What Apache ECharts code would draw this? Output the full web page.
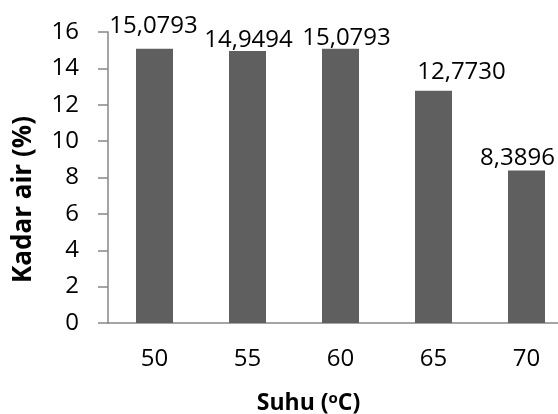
<!DOCTYPE html>
<html>
<head>
<meta charset="utf-8">
<script src="https://cdn.jsdelivr.net/npm/echarts@6/dist/echarts.min.js"></script>
<style>
  html, body { margin: 0; padding: 0; background: #ffffff; }
  #chart { width: 558px; height: 414px; }
</style>
</head>
<body>
<div id="chart"></div>
<script>
// Drying temperature (°C) and resulting moisture content (%)
const suhu = ['50', '55', '60', '65', '70'];
const kadarAir = [15.0793, 14.9494, 15.0793, 12.7730, 8.3896];
const yTicks = { min: 0, max: 16, interval: 2 };

// Hand-placed nudges for each value label [dx, dy]
const labelNudge = [[-1, -7], [1, 5], [6, 5], [28, -3], [-9, 4]];

const FONT = 'Open Sans';
const AXIS_GREY = '#868686';

const chart = echarts.init(document.getElementById('chart'), null, { renderer: 'canvas' });

const fmt = v => v.toFixed(4).replace('.', ',');

chart.setOption({
  animation: false,
  backgroundColor: '#ffffff',
  // plot area runs past the right edge of the canvas on purpose
  grid: { left: 108, top: 32, bottom: 91, width: 465, containLabel: false, outerBoundsMode: 'none' },
  xAxis: {
    type: 'category',
    data: suhu,
    name: 'Suhu ({o|o}C)',
    nameLocation: 'middle',
    nameGap: 68,
    nameTextStyle: {
      fontFamily: FONT, fontSize: 23, fontWeight: 'bold', color: '#000',
      padding: [0, 64, 0, 0],
      rich: {
        o: { fontFamily: FONT, fontSize: 15, fontWeight: 'bold', color: '#000', verticalAlign: 'top', padding: [0, 0, 9, 0] }
      }
    },
    axisLine: { show: true, lineStyle: { color: AXIS_GREY, width: 1.5 } },
    axisTick: { show: false },
    axisLabel: { fontFamily: FONT, fontSize: 24, color: '#000', margin: 24 },
    splitLine: { show: false }
  },
  yAxis: {
    type: 'value',
    min: yTicks.min,
    max: yTicks.max,
    interval: yTicks.interval,
    name: 'Kadar air (%)',
    nameLocation: 'middle',
    nameRotate: 90,
    nameGap: 71,
    nameTextStyle: {
      fontFamily: FONT, fontSize: 26, fontWeight: 'bold', color: '#000',
      padding: [0, 44, 0, 0]
    },
    axisLine: { show: true, lineStyle: { color: AXIS_GREY, width: 1.5 } },
    axisTick: { show: true, inside: false, length: 10, lineStyle: { color: AXIS_GREY, width: 1.5 } },
    axisLabel: { fontFamily: FONT, fontSize: 24, color: '#000', margin: 29 },
    splitLine: { show: false }
  },
  series: [{
    type: 'bar',
    data: kadarAir.map((v, i) => ({
      value: v,
      label: { offset: labelNudge[i] }
    })),
    barWidth: 37,
    itemStyle: { color: '#5f5f5f' },
    label: {
      show: true,
      position: 'top',
      distance: 4,
      fontFamily: FONT,
      fontSize: 24,
      color: '#000',
      formatter: p => fmt(p.value)
    }
  }]
});
</script>
</body>
</html>
